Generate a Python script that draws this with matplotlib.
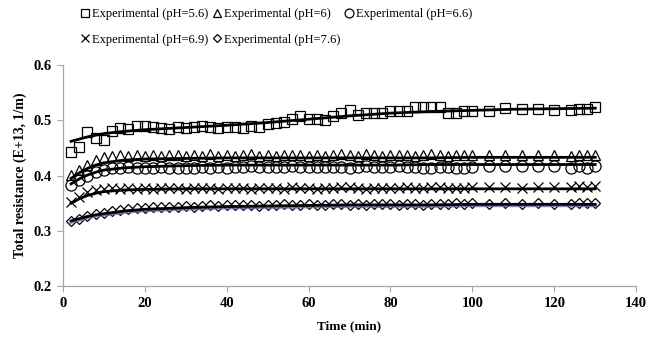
import matplotlib
matplotlib.use("Agg")
import matplotlib.pyplot as plt

plt.rcParams['font.family'] = ['Liberation Serif', 'DejaVu Serif']

# ---- data ----
time = [2, 4, 6, 8, 10, 12, 14, 16, 18, 20, 22, 24, 26, 28, 30, 32, 34, 36, 38, 40,
        42, 44, 46, 48, 50, 52, 54, 56, 58, 60, 62, 64, 66, 68, 70, 72, 74, 76, 78, 80,
        82, 84, 86, 88, 90, 92, 94, 96, 98, 100, 104, 108, 112, 116, 120, 124, 126, 128, 130]

exp_56 = [0.442, 0.451, 0.479, 0.468, 0.464, 0.480, 0.486, 0.485, 0.489, 0.489,
          0.487, 0.486, 0.484, 0.487, 0.486, 0.488, 0.489, 0.487, 0.486, 0.487,
          0.488, 0.486, 0.489, 0.488, 0.493, 0.495, 0.497, 0.502, 0.508, 0.502,
          0.502, 0.501, 0.508, 0.513, 0.518, 0.509, 0.514, 0.514, 0.514, 0.517,
          0.516, 0.517, 0.524, 0.524, 0.524, 0.524, 0.513, 0.513, 0.516, 0.516,
          0.516, 0.522, 0.520, 0.520, 0.519, 0.519, 0.520, 0.520, 0.524]

exp_60 = [0.401, 0.410, 0.420, 0.428, 0.434, 0.436, 0.437, 0.436, 0.437, 0.436,
          0.437, 0.436, 0.437, 0.438, 0.436, 0.437, 0.436, 0.439, 0.436, 0.437,
          0.436, 0.437, 0.439, 0.436, 0.437, 0.436, 0.437, 0.438, 0.437, 0.436,
          0.437, 0.436, 0.438, 0.439, 0.437, 0.436, 0.439, 0.437, 0.436, 0.437,
          0.438, 0.437, 0.436, 0.437, 0.439, 0.437, 0.436, 0.438, 0.437, 0.438,
          0.438, 0.437, 0.438, 0.437, 0.438, 0.436, 0.437, 0.438, 0.437]

exp_66 = [0.383, 0.392, 0.400, 0.406, 0.410, 0.413, 0.414, 0.415, 0.414, 0.413,
          0.414, 0.415, 0.414, 0.413, 0.414, 0.413, 0.415, 0.414, 0.415, 0.414,
          0.415, 0.416, 0.417, 0.416, 0.415, 0.416, 0.415, 0.417, 0.416, 0.415,
          0.416, 0.416, 0.415, 0.416, 0.413, 0.416, 0.417, 0.415, 0.416, 0.416,
          0.417, 0.416, 0.416, 0.414, 0.413, 0.415, 0.416, 0.414, 0.413, 0.416,
          0.418, 0.417, 0.418, 0.417, 0.418, 0.413, 0.417, 0.414, 0.418]

exp_69 = [0.353, 0.362, 0.371, 0.374, 0.376, 0.377, 0.376, 0.377, 0.376, 0.377,
          0.376, 0.377, 0.378, 0.377, 0.376, 0.377, 0.378, 0.377, 0.376, 0.377,
          0.378, 0.377, 0.376, 0.377, 0.378, 0.377, 0.376, 0.379, 0.377, 0.378,
          0.376, 0.377, 0.378, 0.379, 0.380, 0.377, 0.376, 0.377, 0.378, 0.377,
          0.378, 0.379, 0.378, 0.377, 0.379, 0.380, 0.378, 0.377, 0.378, 0.379,
          0.379, 0.380, 0.377, 0.380, 0.379, 0.380, 0.381, 0.380, 0.381]

exp_76 = [0.317, 0.321, 0.326, 0.330, 0.333, 0.336, 0.338, 0.340, 0.341, 0.342,
          0.343, 0.343, 0.344, 0.344, 0.345, 0.344, 0.345, 0.346, 0.345, 0.346,
          0.347, 0.346, 0.347, 0.345, 0.346, 0.347, 0.348, 0.346, 0.347, 0.348,
          0.347, 0.346, 0.348, 0.349, 0.347, 0.348, 0.347, 0.348, 0.349, 0.348,
          0.347, 0.349, 0.348, 0.347, 0.348, 0.349, 0.349, 0.350, 0.349, 0.350,
          0.349, 0.350, 0.349, 0.350, 0.348, 0.349, 0.350, 0.350, 0.351]

fit_time = [2, 4, 6, 8, 10, 15, 20, 30, 40, 50, 60, 70, 80, 90, 100, 110, 120, 130]
fit_56 = [0.462, 0.466, 0.470, 0.473, 0.476, 0.480, 0.483, 0.487, 0.491, 0.496,
          0.502, 0.508, 0.513, 0.516, 0.518, 0.520, 0.521, 0.522]
fit_60 = [0.395, 0.405, 0.413, 0.419, 0.423, 0.428, 0.430, 0.431, 0.432, 0.432,
          0.432, 0.432, 0.432, 0.432, 0.433, 0.433, 0.433, 0.433]
fit_66 = [0.385, 0.394, 0.401, 0.406, 0.410, 0.414, 0.416, 0.418, 0.419, 0.419,
          0.419, 0.419, 0.419, 0.420, 0.420, 0.420, 0.420, 0.420]
fit_69 = [0.350, 0.358, 0.364, 0.368, 0.371, 0.374, 0.375, 0.376, 0.376, 0.376,
          0.376, 0.376, 0.376, 0.376, 0.376, 0.376, 0.376, 0.376]
fit_76 = [0.318, 0.322, 0.326, 0.329, 0.331, 0.336, 0.339, 0.342, 0.344, 0.345,
          0.346, 0.347, 0.347, 0.347, 0.348, 0.348, 0.348, 0.348]

labels = ['Experimental (pH=5.6)', 'Experimental (pH=6)', 'Experimental (pH=6.6)',
          'Experimental (pH=6.9)', 'Experimental (pH=7.6)']
x_ticks = [0, 20, 40, 60, 80, 100, 120, 140]
y_ticks = [0.2, 0.3, 0.4, 0.5, 0.6]

# ---- figure ----
fig = plt.figure(figsize=(6.62, 3.37), dpi=100)
ax = fig.add_axes([0.095, 0.151, 0.866, 0.656])

series = [(exp_56, 's', 7.8), (exp_60, '^', 7.8), (exp_66, 'o', 8.0),
          (exp_69, 'x', 7.5), (exp_76, 'D', 5.5)]
handles = []
for (vals, mk, ms), lab in zip(series, labels):
    h, = ax.plot(time, vals, linestyle='none', marker=mk, markersize=ms,
                 markerfacecolor='none', markeredgecolor='black',
                 markeredgewidth=0.9, label=lab)
    handles.append(h)

ax.plot(fit_time, [v - 0.0025 for v in fit_76], color='#7a5fa8', lw=2.2, alpha=0.8)
for f in [fit_56, fit_60, fit_66, fit_69, fit_76]:
    ax.plot(fit_time, f, color='black', lw=2.0)

ax.set_xlim(0, 140)
ax.set_ylim(0.2, 0.6)
ax.set_xticks(x_ticks)
ax.set_yticks(y_ticks)
ax.set_yticklabels([f'{t:.1f}' for t in y_ticks])
for s in ['top', 'right']:
    ax.spines[s].set_visible(False)
for s in ['left', 'bottom']:
    ax.spines[s].set_color('#A6A6A6')
    ax.spines[s].set_linewidth(0.9)
ax.tick_params(axis='both', direction='out', length=4, color='#A6A6A6',
               labelsize=10.5, pad=4)
for t in ax.get_xticklabels() + ax.get_yticklabels():
    t.set_fontweight('bold')
ax.set_xlabel('Time (min)', fontsize=9.5, fontweight='bold', labelpad=7)
ax.set_ylabel('Total resistance (E+13, 1/m)', fontsize=10, fontweight='bold', labelpad=5)

order = [0, 3, 1, 4, 2]
fig.legend([handles[i] for i in order], [labels[i] for i in order],
           loc='upper left', bbox_to_anchor=(80 / 662, 1 - 8 / 337),
           ncol=3, frameon=False, fontsize=9, handlelength=0.8,
           handletextpad=0.15, columnspacing=0.3, labelspacing=1.1,
           borderpad=0, borderaxespad=0, markerscale=0.8)

fig.savefig('out.png', dpi=100)
